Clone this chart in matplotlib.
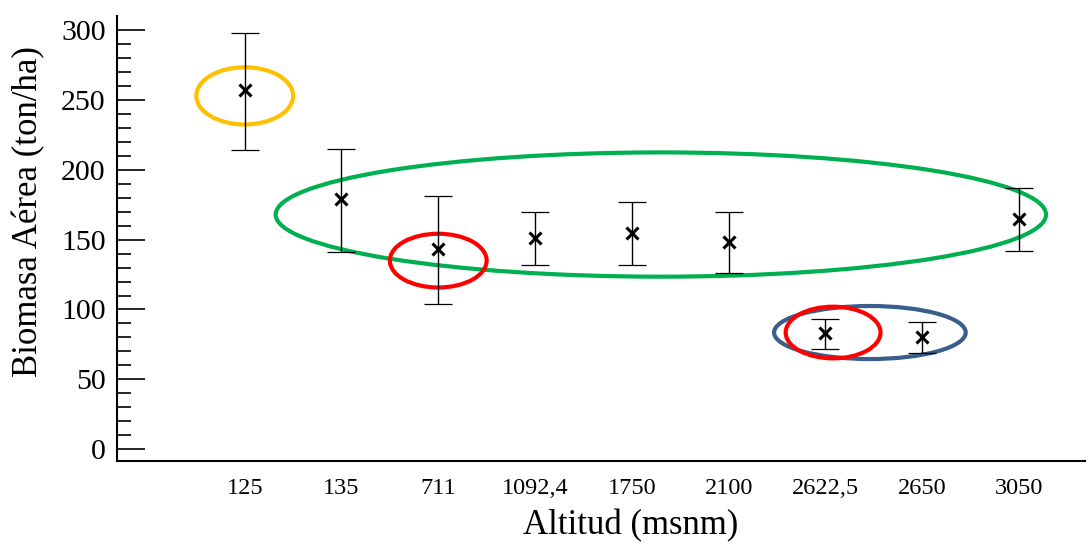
import matplotlib
matplotlib.use("Agg")
import matplotlib.pyplot as plt
from matplotlib.patches import Ellipse

altitudes = ["125", "135", "711", "1092,4", "1750", "2100", "2622,5", "2650", "3050"]
biomasa = [257, 179, 143, 151, 155, 148, 83, 80, 165]
err_upper = [298, 215, 181, 170, 177, 170, 93, 91, 187]
err_lower = [214, 141, 104, 132, 132, 126, 72, 69, 142]

plt.rcParams['font.family'] = ['Liberation Serif', 'DejaVu Serif']

fig = plt.figure(figsize=(10.88, 5.44), dpi=100)
ax = fig.add_axes([0.1075, 0.1526, 0.8895, 0.8175])

x = list(range(len(altitudes)))
yerr = [[m - lo for m, lo in zip(biomasa, err_lower)],
        [hi - m for m, hi in zip(biomasa, err_upper)]]
ax.errorbar(x, biomasa, yerr=yerr, fmt='none', ecolor='black',
            elinewidth=1, capsize=10, capthick=0.9)
ax.plot(x, biomasa, 'x', color='black', markersize=9, markeredgewidth=2.2)

# circled groups
lw = 3
ax.add_patch(Ellipse((0, 253), 1.0, 41, fill=False, edgecolor='#FFC000', lw=lw))
ax.add_patch(Ellipse((4.3, 168), 7.96, 89, fill=False, edgecolor='#00B050', lw=lw))
ax.add_patch(Ellipse((2.0, 135), 1.0, 38.5, fill=False, edgecolor='#FF0000', lw=lw))
ax.add_patch(Ellipse((6.46, 83.5), 1.98, 38, fill=False, edgecolor='#3A5E8C', lw=lw))
ax.add_patch(Ellipse((6.08, 83.5), 0.98, 37, fill=False, edgecolor='#FF0000', lw=lw))

ax.set_xlim(-1.32, 8.68)
ax.set_ylim(-8.5, 310)
ax.set_xticks(x)
ax.set_xticklabels(altitudes, fontsize=17.5)
ax.tick_params(axis='x', length=0, pad=12)
ax.set_yticks(range(0, 301, 50))
ax.set_yticks(range(0, 301, 10), minor=True)
ax.tick_params(axis='y', which='major', direction='in', length=20, width=1.2, labelsize=21.5, pad=8)
ax.tick_params(axis='y', which='minor', direction='in', length=10, width=1.2)

ax.spines['top'].set_visible(False)
ax.spines['right'].set_visible(False)
ax.spines['left'].set_linewidth(1.5)
ax.spines['bottom'].set_linewidth(1.5)

ax.set_xlabel('Altitud (msnm)', fontsize=25)
ax.set_ylabel('Biomasa Aérea (ton/ha)', fontsize=25)
ax.xaxis.set_label_coords(0.531, -0.108)
ax.yaxis.set_label_coords(-0.074, 0.56)

fig.savefig('out.png', dpi=100)
